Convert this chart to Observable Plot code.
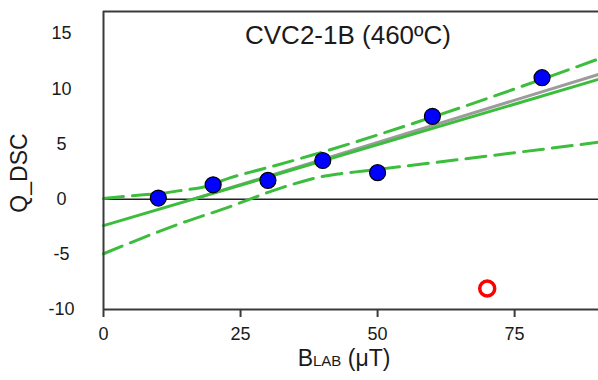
<!DOCTYPE html>
<html>
<head>
<meta charset="utf-8">
<script src="https://cdn.jsdelivr.net/npm/d3@7"></script>
<script src="https://cdn.jsdelivr.net/npm/@observablehq/plot@0.6"></script>
<style>
  html, body { margin: 0; padding: 0; background: #fff; }
</style>
</head>
<body>
<div id="chart"></div>
<script>
// Specimen CVC2-1B heated to 460 °C: multispecimen DSC ratio versus lab field
const title = "CVC2-1B (460ºC)";
const bLab = [10, 20, 30, 40, 50, 60, 80];
const qDsc = [0.1, 1.3, 1.7, 3.5, 2.4, 7.5, 11.0];

// rejected specimen (open symbol)
const rejectedB = [70];
const rejectedQ = [-8.1];

// least-squares fit line (endpoints at the plot edges)
const fitB = [0, 90.3];
const fitQ = [-2.4, 10.85];

// second fit, drawn in grey, starting where it crosses zero
const altB = [16.4, 90.3];
const altQ = [0, 11.3];

// dashed confidence envelope
const upperB = [0, 5, 7.3, 11, 14, 18.3, 23.2, 26.8, 31.4, 37.8, 60.4, 90.3];
const upperQ = [0.05, 0.3, 0.4, 0.55, 0.77, 1.1, 1.95, 2.45, 3.05, 3.95, 7.5, 12.7];
const lowerB = [0, 13.5, 23.2, 25.9, 28.3, 32.3, 36.3, 38.7, 43.2, 47.5, 90.3];
const lowerQ = [-4.95, -2.3, -0.65, -0.15, 0.3, 1.0, 1.6, 1.92, 2.3, 2.55, 5.15];

const xTicks = [0, 25, 50, 75];
const yTicks = [-10, -5, 0, 5, 10, 15];
const xDomain = [0, 90.3];
const yDomain = [-10, 17];

const rows = (xs, ys) => xs.map((x, i) => ({x, y: ys[i]}));
const green = "#3dbd3d";
const axisColor = "#3a3a3a";

const chart = Plot.plot({
  width: 598,
  height: 380,
  marginLeft: 103,
  marginRight: 0,
  marginTop: 11,
  marginBottom: 71,
  x: {domain: xDomain},
  y: {domain: yDomain},
  style: {
    fontFamily: "'Liberation Sans', Arial, sans-serif",
    fontSize: "18px",
    color: "#1a1a1a",
    background: "#fff"
  },
  marks: [
    Plot.ruleY([0], {stroke: "#222", strokeWidth: 1.5}),
    Plot.line(rows(altB, altQ), {x: "x", y: "y", stroke: "#9c9c9c", strokeWidth: 3}),
    Plot.line(rows(fitB, fitQ), {x: "x", y: "y", stroke: green, strokeWidth: 3}),
    Plot.line(rows(upperB, upperQ), {x: "x", y: "y", stroke: green, strokeWidth: 3,
      strokeDasharray: "20,9", curve: "monotone-x"}),
    Plot.line(rows(lowerB, lowerQ), {x: "x", y: "y", stroke: green, strokeWidth: 3,
      strokeDasharray: "20,9", curve: "monotone-x"}),
    // open-ended frame: top, bottom and left edges
    Plot.ruleY(yDomain, {stroke: axisColor, strokeWidth: 2}),
    Plot.ruleX([xDomain[0]], {stroke: axisColor, strokeWidth: 2}),
    Plot.axisX({ticks: xTicks, tickSize: 8, tickPadding: 10, stroke: axisColor,
      strokeWidth: 2, fontSize: 18, label: null, tickFormat: d => String(d)}),
    Plot.axisY({ticks: yTicks, tickSize: 0, tickPadding: 42, textAnchor: "middle",
      fontSize: 18, label: null, tickFormat: d => String(d)}),
    Plot.dot(rows(bLab, qDsc), {x: "x", y: "y", r: 8, fill: "#0000ff",
      stroke: "#000", strokeWidth: 1.2}),
    Plot.dot(rows(rejectedB, rejectedQ), {x: "x", y: "y", r: 7.5, fill: "none",
      stroke: "#ff0000", strokeWidth: 3.5}),
    Plot.text([title], {text: d => d, frameAnchor: "top", dx: -3, dy: 14,
      fontSize: 26, fill: "#1a1a1a"})
  ]
});

// axis titles (the x title uses a small-caps "LAB")
const svg = d3.select(chart);
const xTitle = svg.append("text")
  .attr("x", 344)
  .attr("y", 366)
  .attr("text-anchor", "middle")
  .attr("fill", "#1a1a1a")
  .style("font-size", "23px");
xTitle.append("tspan").text("B");
xTitle.append("tspan").style("font-size", "15px").text("LAB");
xTitle.append("tspan").text(" (\u03bcT)");

svg.append("text")
  .attr("transform", "translate(27,173) rotate(-90)")
  .attr("text-anchor", "middle")
  .attr("fill", "#1a1a1a")
  .style("font-size", "23px")
  .text("Q_DSC");

document.getElementById("chart").appendChild(chart);
</script>
</body>
</html>
